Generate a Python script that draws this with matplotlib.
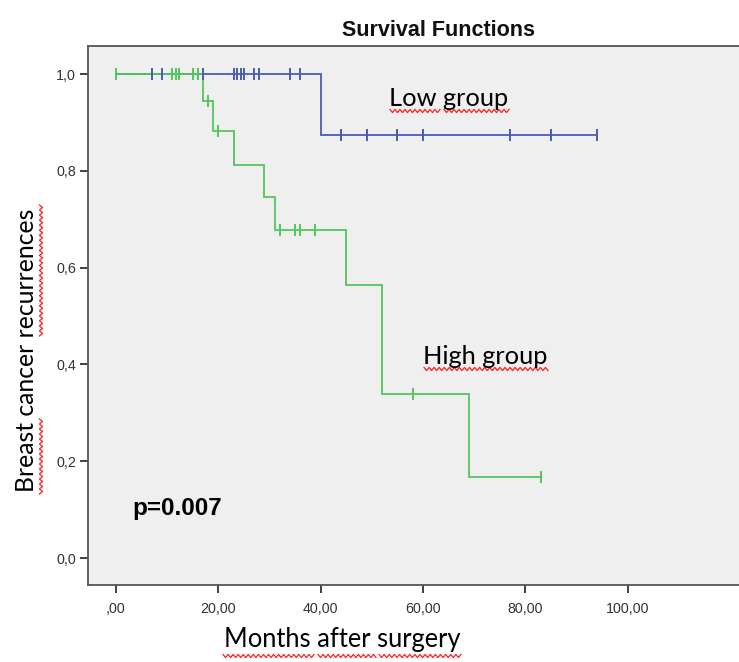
import numpy as np
import matplotlib
matplotlib.use("Agg")
import matplotlib.pyplot as plt
from matplotlib.lines import Line2D

# ---- data ----
low_event_times = [40]
low_levels = [0.875]
low_end = 94
low_censor = [7, 9, 17, 23, 23.6, 24.4, 25, 27, 28, 34, 36, 44, 49, 55, 60, 77, 85, 94]

high_event_times = [17, 19, 23, 29, 31, 45, 52, 69]
high_levels = [0.945, 0.882, 0.813, 0.746, 0.678, 0.565, 0.338, 0.168]
high_end = 83
high_censor = [0, 11, 11.7, 12.4, 15, 16, 18, 20, 32, 35, 36, 39, 58, 83]

x_ticks = [0, 20, 40, 60, 80, 100]
x_tick_labels = [",00", "20,00", "40,00", "60,00", "80,00", "100,00"]
y_ticks = [0.0, 0.2, 0.4, 0.6, 0.8, 1.0]
y_tick_labels = ["0,0", "0,2", "0,4", "0,6", "0,8", "1,0"]

BLUE = "#4a5db3"
GREEN = "#52c65b"

W, H = 739, 662
fig = plt.figure(figsize=(W / 100, H / 100), dpi=100)
fig.patch.set_facecolor("white")

def fx(px):
    return px / W

def fy(py):
    return 1 - py / H

ax = fig.add_axes([fx(88), fy(585), fx(788) - fx(88), fy(46) - fy(585)])
ax.set_facecolor("#efefef")

def step_curve(event_times, levels, end):
    xs = [0]
    ys = [1.0]
    cur = 1.0
    for t, s in zip(event_times, levels):
        xs += [t, t]
        ys += [cur, s]
        cur = s
    xs.append(end)
    ys.append(cur)
    return xs, ys

def level_at(t, event_times, levels):
    cur = 1.0
    for et, s in zip(event_times, levels):
        if t >= et:
            cur = s
    return cur

for ev, lv, end, cens, col in [
    (low_event_times, low_levels, low_end, low_censor, BLUE),
    (high_event_times, high_levels, high_end, high_censor, GREEN),
]:
    xs, ys = step_curve(ev, lv, end)
    ax.plot(xs, ys, color=col, lw=1.3, solid_joinstyle="miter", zorder=3)
    cy = [level_at(t, ev, lv) for t in cens]
    ax.plot(cens, cy, linestyle="none", marker="|", markersize=8,
            markeredgewidth=1.4, color=col, zorder=4)

ax.set_xlim((88 - 116) / 5.115, (788 - 116) / 5.115)
ax.set_ylim(-(585 - 558) / 484, (558 - 46) / 484)

ax.set_xticks(x_ticks)
ax.set_xticklabels(x_tick_labels)
ax.set_yticks(y_ticks)
ax.set_yticklabels(y_tick_labels)
ax.tick_params(direction="out", length=5.5, width=1.3, color="#333333",
               labelsize=10.3, labelcolor="#333333", pad=3)
for lab in ax.get_xticklabels() + ax.get_yticklabels():
    lab.set_fontfamily("Liberation Sans")
ax.tick_params(axis="x", pad=7)

for side in ["left", "bottom", "top"]:
    ax.spines[side].set_color("#555555")
    ax.spines[side].set_linewidth(1.3)
ax.spines["right"].set_visible(False)

fig.text(fx(438), fy(30), "Survival Functions", ha="center", va="center",
         fontsize=15.5, fontweight="bold", family="Liberation Sans", color="#111111")

fig.text(fx(449), fy(98), "Low group", ha="center", va="center",
         fontsize=18.3, family="Lato", color="black")
fig.text(fx(485), fy(356), "High group", ha="center", va="center",
         fontsize=18.3, family="Lato", color="black")
fig.text(fx(177), fy(508), "p=0.007", ha="center", va="center",
         fontsize=17.5, fontweight="bold", family="Liberation Sans", color="black")
fig.text(fx(342), fy(639), "Months after surgery", ha="center", va="center",
         fontsize=18.4, family="Lato", color="black")
fig.text(fx(27), fy(350), "Breast cancer recurrences", ha="center", va="center",
         rotation=90, fontsize=17.8, family="Lato", color="black")

def squiggle(x0, x1, y, vertical=False):
    n = int(abs(x1 - x0) / 2.5)
    s = np.linspace(x0, x1, n + 1)
    o = np.where(np.arange(n + 1) % 2 == 0, -1.6, 1.6) + y
    if vertical:
        xs, ys = o, s
    else:
        xs, ys = s, o
    fig.add_artist(Line2D([fx(v) for v in xs], [fy(v) for v in ys],
                          transform=fig.transFigure, color="#ff2020", lw=0.9))

squiggle(390, 440, 111)
squiggle(444, 509, 111)
squiggle(424, 548, 369)
squiggle(223, 314, 656)
squiggle(318, 376, 656)
squiggle(379, 461, 656)
squiggle(205, 336, 41, vertical=True)
squiggle(419, 494, 41, vertical=True)

fig.savefig("out.png", dpi=100)
